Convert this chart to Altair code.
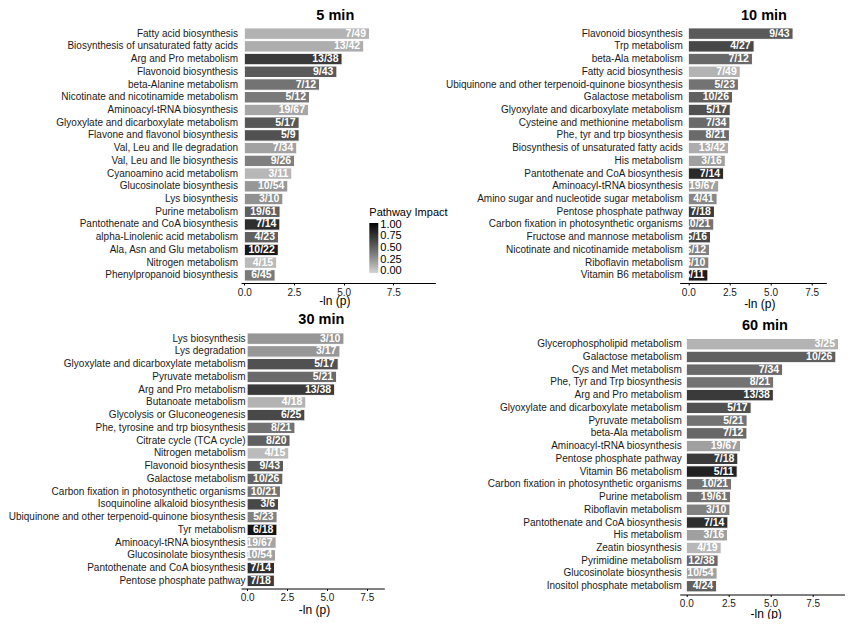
import altair as alt
import pandas as pd

FONT = "Liberation Sans"

# ---------------- data ----------------
names_5 = ["Fatty acid biosynthesis", "Biosynthesis of unsaturated fatty acids", "Arg and Pro metabolism",
           "Flavonoid biosynthesis", "beta-Alanine metabolism", "Nicotinate and nicotinamide metabolism",
           "Aminoacyl-tRNA biosynthesis", "Glyoxylate and dicarboxylate metabolism",
           "Flavone and flavonol biosynthesis", "Val, Leu and Ile degradation", "Val, Leu and Ile biosynthesis",
           "Cyanoamino acid metabolism", "Glucosinolate biosynthesis", "Lys biosynthesis", "Purine metabolism",
           "Pantothenate and CoA biosynthesis", "alpha-Linolenic acid metabolism", "Ala, Asn and Glu metabolism",
           "Nitrogen metabolism", "Phenylpropanoid biosynthesis"]
lnp_5 = [6.30, 6.01, 4.92, 4.66, 3.79, 3.28, 3.23, 2.76, 2.76, 2.64, 2.53, 2.39, 2.19, 1.94, 1.80, 1.79,
         1.72, 1.71, 1.63, 1.55]
hits_5 = ["7/49", "13/42", "13/38", "9/43", "7/12", "5/12", "19/67", "5/17", "5/9", "7/34", "9/26", "3/11",
          "10/54", "3/10", "19/61", "7/14", "4/23", "10/22", "4/15", "6/45"]
impact_5 = [0.11, 0.13, 0.73, 0.55, 0.42, 0.39, 0.17, 0.57, 0.60, 0.19, 0.36, 0.09, 0.24, 0.27, 0.52, 0.80,
            0.52, 0.92, 0.07, 0.39]

names_10 = ["Flavonoid biosynthesis", "Trp metabolism", "beta-Ala metabolism", "Fatty acid biosynthesis",
            "Ubiquinone and other terpenoid-quinone biosynthesis", "Galactose metabolism",
            "Glyoxylate and dicarboxylate metabolism", "Cysteine and methionine metabolism",
            "Phe, tyr and trp biosynthesis", "Biosynthesis of unsaturated fatty acids", "His metabolism",
            "Pantothenate and CoA biosynthesis", "Aminoacyl-tRNA biosynthesis",
            "Amino sugar and nucleotide sugar metabolism", "Pentose phosphate pathway",
            "Carbon fixation in photosynthetic organisms", "Fructose and mannose metabolism",
            "Nicotinate and nicotinamide metabolism", "Riboflavin metabolism", "Vitamin B6 metabolism"]
lnp_10 = [6.37, 4.00, 3.90, 3.16, 3.05, 2.69, 2.55, 2.53, 2.50, 2.45, 2.25, 2.15, 1.85, 1.75, 1.59, 1.55,
          1.35, 1.29, 1.25, 1.19]
hits_10 = ["9/43", "4/27", "7/12", "7/49", "5/23", "10/26", "5/17", "7/34", "8/21", "13/42", "3/16", "7/14",
           "19/67", "4/41", "7/18", "10/21", "5/16", "5/12", "3/10", "5/11"]
impact_10 = [0.55, 0.65, 0.48, 0.11, 0.42, 0.52, 0.60, 0.47, 0.47, 0.14, 0.20, 0.82, 0.20, 0.32, 0.72, 0.42,
             0.65, 0.35, 0.35, 0.90]

names_30 = ["Lys biosynthesis", "Lys degradation", "Glyoxylate and dicarboxylate metabolism",
            "Pyruvate metabolism", "Arg and Pro metabolism", "Butanoate metabolism",
            "Glycolysis or Gluconeogenesis", "Phe, tyrosine and trp biosynthesis", "Citrate cycle (TCA cycle)",
            "Nitrogen metabolism", "Flavonoid biosynthesis", "Galactose metabolism",
            "Carbon fixation in photosynthetic organisms", "Isoquinoline alkaloid biosynthesis",
            "Ubiquinone and other terpenoid-quinone biosynthesis", "Tyr metabolism",
            "Aminoacyl-tRNA biosynthesis", "Glucosinolate biosynthesis", "Pantothenate and CoA biosynthesis",
            "Pentose phosphate pathway"]
lnp_30 = [6.07, 5.82, 5.71, 5.61, 5.49, 3.68, 3.62, 3.00, 2.69, 2.61, 2.28, 2.24, 2.09, 1.97, 1.88, 1.87,
          1.82, 1.78, 1.72, 1.71]
hits_30 = ["3/10", "3/17", "5/17", "5/21", "13/38", "4/18", "6/25", "8/21", "8/20", "4/15", "9/43", "10/26",
           "10/21", "3/6", "5/23", "6/18", "19/67", "10/54", "7/14", "7/18"]
impact_30 = [0.24, 0.24, 0.60, 0.47, 0.73, 0.11, 0.65, 0.42, 0.52, 0.07, 0.55, 0.50, 0.42, 0.65, 0.35, 0.96,
             0.17, 0.20, 0.80, 0.72]

names_60 = ["Glycerophospholipid metabolism", "Galactose metabolism", "Cys and Met metabolism",
            "Phe, Tyr and Trp biosynthesis", "Arg and Pro metabolism", "Glyoxylate and dicarboxylate metabolism",
            "Pyruvate metabolism", "beta-Ala metabolism", "Aminoacyl-tRNA biosynthesis",
            "Pentose phosphate pathway", "Vitamin B6 metabolism", "Carbon fixation in photosynthetic organisms",
            "Purine metabolism", "Riboflavin metabolism", "Pantothenate and CoA biosynthesis", "His metabolism",
            "Zeatin biosynthesis", "Pyrimidine metabolism", "Glucosinolate biosynthesis",
            "Inositol phosphate metabolism"]
lnp_60 = [9.04, 8.88, 5.72, 5.19, 5.17, 3.85, 3.61, 3.60, 3.22, 3.06, 3.02, 2.69, 2.63, 2.59, 2.47, 2.45,
          2.07, 1.89, 1.83, 1.80]
hits_60 = ["3/25", "10/26", "7/34", "8/21", "13/38", "5/17", "5/21", "7/12", "19/67", "7/18", "5/11", "10/21",
           "19/61", "3/10", "7/14", "3/16", "4/19", "12/38", "10/54", "4/24"]
impact_60 = [0.11, 0.52, 0.47, 0.42, 0.73, 0.60, 0.42, 0.48, 0.20, 0.72, 0.88, 0.42, 0.42, 0.35, 0.80, 0.20,
             0.09, 0.47, 0.20, 0.52]

impact_ticks = [0, 0.25, 0.5, 0.75, 1.0]
x_ticks = [0, 2.5, 5.0, 7.5]


def panel(title, names, lnp, hits, impact, width, height, xdom, label_pad, title_dx, title_dy,
          title_x, title_y, pad_outer=0.15, band_align=0.5):
    df = pd.DataFrame({"pathway": names, "lnp": lnp, "hits": hits, "impact": impact})
    y_enc = alt.Y("pathway:N", sort=names,
                  scale=alt.Scale(paddingInner=0.1, paddingOuter=pad_outer, align=band_align),
                  axis=alt.Axis(title=None, domain=False, ticks=False, labelFontSize=10,
                                labelColor="#1a1a1a", labelPadding=label_pad, labelLimit=400,
                                labelFont=FONT))
    x_enc = alt.X("lnp:Q",
                  scale=alt.Scale(domain=xdom, nice=False, zero=False),
                  axis=alt.Axis(values=x_ticks, format=".1f", grid=False, domainColor="black",
                                domainWidth=1, tickColor="black", tickSize=2, labelFontSize=10,
                                labelPadding=2, labelColor="#1a1a1a", labelFlush=False, labelFont=FONT,
                                title="-ln (p)", titleFontSize=12, titleFontWeight="normal",
                                titleColor="black", titleFont=FONT, titleX=title_x, titleY=title_y,
                                titleAlign="center", titleBaseline="alphabetic"))
    color_enc = alt.Color("impact:Q",
                          scale=alt.Scale(domain=[-0.04, 1.04], range=["#d3d3d3", "#000000"]),
                          legend=alt.Legend(title="Pathway Impact", orient="none", legendX=128.3, legendY=181,
                                            values=impact_ticks, format=".2f", gradientLength=50,
                                            gradientThickness=9, titleFontSize=11, titleFontWeight="normal",
                                            titleColor="black", labelFontSize=11, labelColor="black",
                                            titleFont=FONT, labelFont=FONT, titlePadding=5,
                                            labelOverlap=False, labelBaseline="middle",
                                            direction="vertical", labelOffset=2))
    base = alt.Chart(df)
    bars = base.mark_bar(stroke="white", strokeWidth=1).encode(
        y=y_enc, x=x_enc, x2=alt.datum(0), color=color_enc)
    text = base.mark_text(align="right", baseline="middle", dx=-3.5, color="white", fontSize=10.5,
                          fontWeight="bold", font=FONT).encode(y=y_enc, x=x_enc, text="hits:N")
    return alt.layer(bars, text).properties(
        width=width, height=height,
        title=alt.TitleParams(text=title, fontSize=14.5, fontWeight="bold", font=FONT, color="black",
                              anchor="middle", frame="group", offset=6.7, dx=title_dx, dy=title_dy,
                              baseline="alphabetic"))


p1 = panel("5 min", names_5, lnp_5, hits_5, impact_5, 194.3, 257, [-0.166, 9.613], 3.4, -2.85, 15.4,
           93.3, 21.4)
p2 = panel("10 min", names_10, lnp_10, hits_10, impact_10, 146.6, 257, [-0.523, 8.39], -2.6, 11, 15.4,
           79.6, 24.3)
p3 = panel("30 min", names_30, lnp_30, hits_30, impact_30, 143.3, 257.5, [-0.382, 8.60], -4.1, 8.65, 14.6,
           73, 25)
p4 = panel("60 min", names_60, lnp_60, hits_60, impact_60, 164.8, 263.5, [-0.392, 9.394], -1.6, 2.9, 20,
           86, 22.5, pad_outer=0.395, band_align=0.743)

chart = alt.concat(p1, p2, p3, p4, columns=2, spacing={"row": 48, "column": 243.7},
                   bounds="flush").resolve_scale(
    x="independent", y="independent", color="shared"
).properties(
    padding={"left": 0, "top": 0, "right": 0, "bottom": 0},
    background="white",
).configure(font=FONT).configure_view(stroke="transparent", strokeWidth=0)

chart.save("out.html", embed_options={"renderer": "svg", "actions": False})
